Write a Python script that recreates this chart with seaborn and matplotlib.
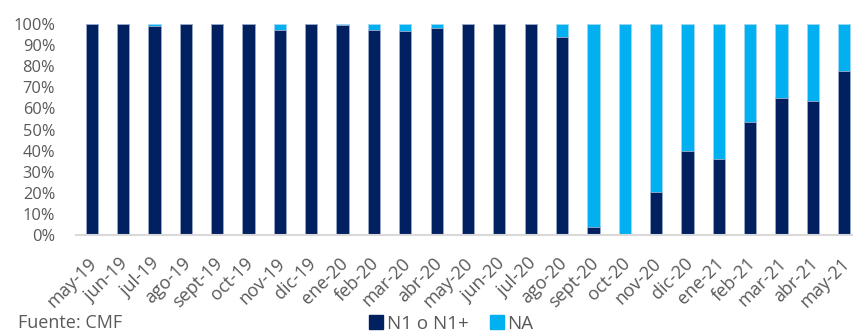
import matplotlib
matplotlib.use("Agg")
import matplotlib.pyplot as plt
import matplotlib.transforms as mtransforms
import seaborn as sns
import pandas as pd
import numpy as np
from matplotlib.lines import Line2D

categories = ["may-19", "jun-19", "jul-19", "ago-19", "sept-19", "oct-19", "nov-19",
              "dic-19", "ene-20", "feb-20", "mar-20", "abr-20", "may-20", "jun-20",
              "jul-20", "ago-20", "sept-20", "oct-20", "nov-20", "dic-20", "ene-21",
              "feb-21", "mar-21", "abr-21", "may-21"]
n1 = [100, 100, 99, 100, 100, 100, 97.3, 100, 99.5, 97.3, 96.8, 98.1, 100, 100,
      100, 94, 3.8, 0, 20.2, 40, 35.9, 53.4, 65, 63.5, 77.7]
na = [0, 0, 1, 0, 0, 0, 2.7, 0, 0.5, 2.7, 3.2, 1.9, 0, 0,
      0, 6, 96.2, 100, 79.8, 60, 64.1, 46.6, 35, 36.5, 22.3]
yticks = [0, 10, 20, 30, 40, 50, 60, 70, 80, 90, 100]

dark = "#002060"
light = "#00B0F0"
gray = "#595959"

df = pd.DataFrame({"mes": categories,
                   "N1": np.array(n1) / 100.0,
                   "total": (np.array(n1) + np.array(na)) / 100.0})

sns.set_theme(style="white")
plt.rcParams["font.family"] = ["Open Sans", "DejaVu Sans"]

fig = plt.figure(figsize=(8.54, 3.33), dpi=100)
ax = fig.add_axes([76 / 854, 1 - 235 / 333, 784 / 854, 211 / 333])

sns.barplot(data=df, x="mes", y="total", color=light, width=0.39, ax=ax,
            edgecolor="#9FD8F5", linewidth=0.6, saturation=1)
sns.barplot(data=df, x="mes", y="N1", color=dark, width=0.39, ax=ax,
            edgecolor="#A3AECB", linewidth=0.6, saturation=1)

ax.set_xlim(-0.5, len(categories) - 0.5)
ax.set_ylim(0, 1)
ax.set_yticks([v / 100 for v in yticks])
ax.set_yticklabels([f"{v}%" for v in yticks], fontsize=11.8, color=gray)
ax.tick_params(axis="y", length=0, pad=15)

ax.set_xticks(range(len(categories)))
ax.set_xticklabels(categories, rotation=45, ha="right", va="top",
                   rotation_mode="anchor", fontsize=13, color=gray)
ax.tick_params(axis="x", which="major", length=0, pad=14)
shift = mtransforms.ScaledTranslation(-4 / 100, 0, fig.dpi_scale_trans)
for lab in ax.get_xticklabels():
    lab.set_transform(lab.get_transform() + shift)
ax.set_xticks(np.arange(-0.5, len(categories), 1.0), minor=True)
ax.tick_params(axis="x", which="minor", length=6, width=1.2, color="#D9D9D9",
               direction="out")

for s in ["top", "right", "left"]:
    ax.spines[s].set_visible(False)
ax.spines["bottom"].set_color("#D9D9D9")
ax.spines["bottom"].set_linewidth(1.5)
ax.set_xlabel("")
ax.set_ylabel("")

handles = [Line2D([0], [0], marker="s", linestyle="", markersize=9.5,
                  markerfacecolor=dark, markeredgecolor=dark),
           Line2D([0], [0], marker="s", linestyle="", markersize=9.5,
                  markerfacecolor=light, markeredgecolor=light)]
fig.legend(handles, ["N1 o N1+", "NA"], loc="center", bbox_to_anchor=(450 / 854, 1 - 324 / 333),
           ncol=2, frameon=False, fontsize=13.5, labelcolor=gray,
           handletextpad=0.05, columnspacing=1.0, handlelength=1.0)

fig.text(18 / 854, 1 - 332 / 333, "Fuente: CMF", fontsize=13, color=gray,
         ha="left", va="bottom")

fig.savefig("out.png", dpi=100)
